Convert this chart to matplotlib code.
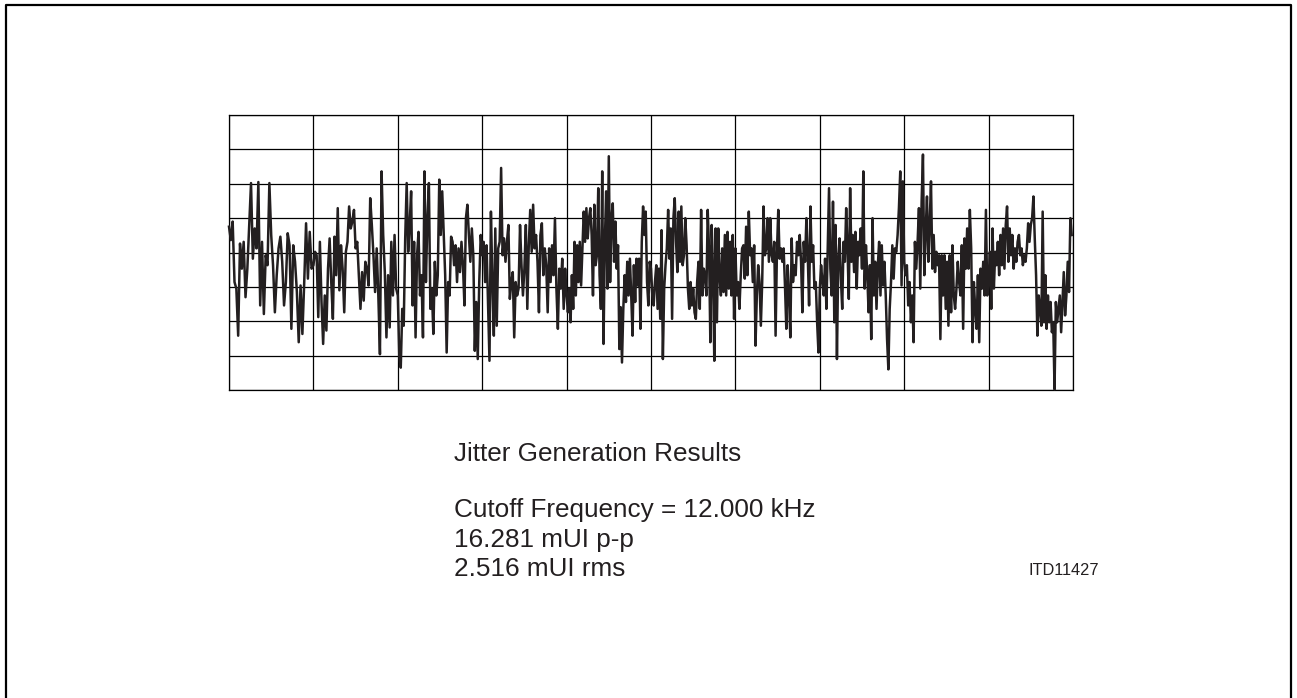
import numpy as np
import matplotlib.pyplot as plt
from matplotlib.lines import Line2D

# Valores del jitter (en divisiones de la retícula, 0 = línea central), una lista por columna
col0 = [0.75, 0.36, 0.90, -0.86, -1.05, -2.42, 0.26, -0.47, 0.31, -1.30, -0.47, 0.80, 2.02, -0.18,
        0.70, 0.12, 2.05, -1.54, 0.31, -1.79, -0.08, -0.37, 2.02, 0.51, -0.37, -1.74, -0.66, 0.12,
        0.46, -0.27, -1.54, -0.86, 0.56, 0.21, -2.22, 0.21, -0.27, -1.15, -2.61, -0.96, -2.37, -0.86,
        0.85, -0.76, 0.60, -0.47]
col1 = [-0.37, 0.02, -0.08, -1.88, 0.31, -1.44, -2.66, -1.25, -2.27, -0.47, 0.41, -0.86, -1.93,
        0.46, -0.66, 1.29, -1.10, 0.21, -0.47, -1.74, 0.02, 0.31, 1.34, 0.70, 0.90, 1.24, 0.12, 0.31,
        -0.66, -1.64, -0.57, -1.40, -0.27, -0.47, -0.96, 1.58, 0.80, -0.08, -1.15, 0.12, -1.25, -2.96,
        2.36, 0.51, -0.57, -2.47, -0.66, -2.18, 0.31, -1.25, 0.51, -1.05]
col2 = [-1.25, -3.00, -3.35, -1.64, -2.13, 0.41, 2.02, 0.02, 0.80, 1.78, -1.54, 0.31, -2.47, -0.08,
        0.60, -1.25, -0.66, -2.47, 2.36, -0.86, 1.00, 2.02, -1.64, -1.05, -2.37, -0.27, -1.25, -0.66,
        2.12, 0.51, 1.78, 0.60, -0.66, -2.91, -0.86, -1.25, 0.46, 0.31, -0.37, 0.21, -0.86, 0.12,
        -0.57, 0.31, -0.37, -1.54, 1.00, 1.39, 0.51, -0.27, 0.70, -0.08, -2.86, -1.44, -3.10, -0.86,
        0.51]
col3 = [-0.08, 0.31, -0.86, 0.21, -1.44, -3.15, 1.19, -0.86, -2.42, 0.70, -2.13, 0.12, 0.31, 2.46,
        -0.08, 0.41, -0.27, 0.31, 0.80, -1.35, -0.86, -0.57, -2.47, -0.86, -1.25, -1.05, 0.80, -0.37,
        -1.25, -0.47, 0.80, -1.64, 0.21, 1.24, 0.02, 1.39, 0.12, 0.51, -0.27, -1.74, 0.51, 0.85,
        -0.66, 0.12, -0.37, -1.74, 0.12, -0.86, 0.21, -0.66, 1.00, -1.05, -2.22, -0.47, -1.05, -0.18,
        -1.64, -0.47]
col4 = [-1.25, -1.74, -1.05, -2.03, -0.66, -1.64, 0.31, -1.25, 0.21, -0.86, 0.31, -0.96, 0.12, 1.19,
        0.31, 1.29, 0.41, 1.00, 1.29, 0.51, -1.25, 1.39, -0.37, -0.08, 1.87, -0.66, -1.64, 2.36,
        -2.66, 0.31, 1.78, -1.05, 2.80, -0.86, 1.00, 1.43, -0.27, 0.90, -0.47, 0.21, -2.81, -1.59,
        -3.20, -1.64, -0.66, -1.44, -0.27, -1.25, -0.18, -1.25, -2.42, -0.37, -1.44, -0.18, -0.96,
        -0.18, -2.22, 0.31, 1.34, 0.51, 1.19, -0.86, -1.54, -0.27]
col5 = [-0.47, -1.25, -1.54, -0.86, -0.37, -1.64, -0.47, -1.93, 0.65, -3.10, -1.05, -0.37, 0.12, 1.24,
        -0.18, 0.70, -1.93, 1.00, 1.58, 0.31, -0.57, 1.19, -0.27, 1.34, -0.37, -0.08, 1.00, 0.21,
        -1.05, -1.64, -0.86, -1.54, -1.05, -1.74, -1.93, -0.86, -0.27, -1.64, 1.24, -1.25, -0.47,
        -0.66, -1.25, 1.24, 0.12, -2.61, 0.80, -0.47, -3.15, 0.70, -2.03, 0.70, -0.66, -1.25, 0.12,
        -1.15, 0.51, -1.25, 0.60, -1.05, 0.31, -1.25, 0.51, -1.93]
col6 = [0.12, -1.25, -0.86, -1.64, -0.66, 0.12, 0.21, -0.76, 0.75, -0.66, 1.19, -0.08, 0.12, -0.86,
        0.21, -2.71, -1.25, -0.37, -0.86, -2.13, -0.86, 1.34, -0.08, 0.12, 1.00, -0.27, 1.00, -0.08,
        -0.27, 0.31, -2.42, 0.02, 1.24, -0.18, 0.12, -0.27, 0.12, -0.96, -2.22, -0.37, -1.25, -2.47,
        0.41, -0.86, -0.37, -0.66, 0.31, -0.08, 0.51, -0.27, -1.74, 0.31, -0.27, 1.00, -0.08, -1.54,
        1.34, -0.27, 0.21, -1.05, -0.86, -2.03, -2.91]
col7 = [-1.05, -0.37, -0.86, -1.25, -0.18, -1.64, 0.12, 1.87, -0.47, -1.25, 1.48, -2.03, 0.80, -3.10,
        -0.18, 0.41, -0.76, -1.64, 0.31, -0.27, 1.29, 0.12, -1.35, 1.87, -0.27, 0.51, -0.57, 0.60,
        -1.05, 0.31, -0.08, 0.70, -0.47, 2.36, -1.05, 0.21, -0.66, -1.74, -0.37, -2.52, 1.00, -1.25,
        -0.27, -1.64, -0.37, 0.31, -1.25, 0.21, -0.96, -0.27, -1.25, -2.52, -3.40, -1.64, -0.86, 0.21,
        -0.76, 0.12, 0.02, 0.51, 1.29, 2.36, -0.96, 2.07]
col8 = [-0.27, -0.66, -0.37, -1.54, -0.86, -2.03, -1.25, -2.61, 0.31, -0.47, 0.31, 1.29, -1.05, 1.48,
        2.85, -0.66, 0.60, 1.63, -0.27, 0.80, 2.07, -0.47, 0.51, -0.57, 0.02, -0.37, -0.08, -2.52,
        -0.08, -1.25, -0.08, -1.64, -0.27, -2.13, -0.08, -1.74, 0.21, -1.25, -1.64, -1.05, -0.27,
        -0.86, -1.25, 0.21, -2.22, 0.41, -0.47, 0.70, -0.47, 1.24, 0.12, -2.61, -0.86, -1.64, -2.22,
        -0.66, -2.61, -0.47, -1.05, -0.27, -1.25, 1.24, -1.25]
col9 = [-0.86, 0.02, -1.64, 0.70, -1.05, 0.02, -0.37, 0.31, -0.66, 0.51, -0.37, 0.70, -0.47, 0.80,
        1.34, -0.27, 0.70, -0.08, 0.51, -0.47, 0.12, -0.27, 0.31, 0.51, -0.08, 0.12, -0.37, -0.08,
        -0.27, 0.12, 0.85, 0.31, 0.80, 1.00, 1.63, 0.41, -0.66, -2.42, -1.25, -1.64, -2.13, 1.19,
        -2.03, -0.66, -2.22, -1.25, -2.03, -1.44, -2.32, -2.03, -3.98, -1.44, -2.03, -1.64, -1.25,
        -2.32, -1.44, -0.57, -1.83, -1.25, -0.27, -1.15, 1.00, 0.51]
columnas = [col0, col1, col2, col3, col4, col5, col6, col7, col8, col9]

# Textos de la figura
titulo = 'Jitter Generation Results'
lineas = ['Cutoff Frequency = 12.000 kHz', '16.281 mUI p-p', '2.516 mUI rms']
codigo = 'ITD11427'

# Cada columna ocupa una división horizontal
t = []
v = []
for k, col in enumerate(columnas):
    t.extend(np.linspace(k, k + 1, len(col), endpoint=False))
    v.extend(col)

W, H = 1297, 698
fig = plt.figure(figsize=(W / 100, H / 100), dpi=100)
ax = fig.add_axes([229 / W, 1 - 390 / H, 844 / W, 275 / H])

ax.plot(t, v, color='#231f20', lw=1.8, clip_on=False, zorder=3)
ax.set_xlim(0, 10)
ax.set_ylim(-4, 4)
ax.set_xticks(range(11))
ax.set_yticks(range(-4, 5))
ax.grid(True, color='black', lw=0.9)
ax.tick_params(length=0, labelbottom=False, labelleft=False)
for s in ax.spines.values():
    s.set_linewidth(0.9)

# Marco exterior (sin borde inferior visible)
x0, x1, y0 = 6 / W, 1291 / W, 1 - 5 / H
fig.add_artist(Line2D([x0, x0, x1, x1], [0, y0, y0, 0], color='black', lw=1.6))

fuente = 'Liberation Sans'
tam = 18.8
fig.text(454 / W, 1 - 461 / H, titulo, fontsize=tam, family=fuente, color='#231f20', va='baseline')
for i, texto in enumerate(lineas):
    fig.text(454 / W, 1 - (517 + 29.5 * i) / H, texto, fontsize=tam, family=fuente,
             color='#231f20', va='baseline')
fig.text(1028 / W, 1 - 575 / H, codigo, fontsize=11.8, family=fuente, color='#231f20', va='baseline')

fig.savefig('out.png', dpi=100)
